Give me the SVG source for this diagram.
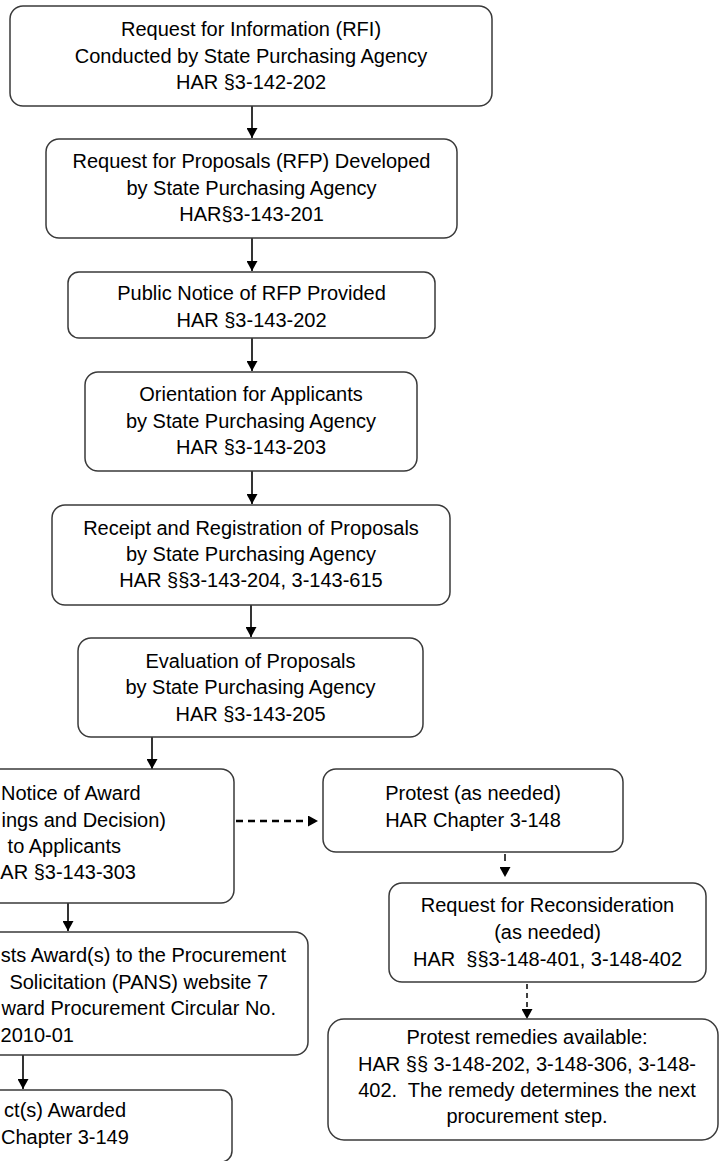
<svg xmlns="http://www.w3.org/2000/svg" width="719" height="1161" viewBox="0 0 719 1161">
<style>
.box{fill:#fff;stroke:#3a3a3a;stroke-width:1.5}
.t{font-family:"Liberation Sans",Arial,sans-serif;font-size:20px;fill:#000;text-anchor:middle;white-space:pre}
.e{text-anchor:end}
.s{text-anchor:start}
.c{stroke:#000;stroke-width:1.6;fill:none}
.d{stroke:#000;fill:none}
</style>
<defs>
<marker id="ah" viewBox="0 0 10 10" refX="10" refY="5" markerWidth="10" markerHeight="11" markerUnits="userSpaceOnUse" orient="auto" preserveAspectRatio="none">
<path d="M0,0 L10,5 L0,10 z" fill="#000"/>
</marker>
</defs>
<rect x="0" y="0" width="719" height="1161" fill="#fff"/>
<g id="connectors">
<line class="c" x1="252" y1="106" x2="252" y2="138" marker-end="url(#ah)"/>
<line class="c" x1="252" y1="238" x2="252" y2="271" marker-end="url(#ah)"/>
<line class="c" x1="252" y1="338" x2="252" y2="371" marker-end="url(#ah)"/>
<line class="c" x1="252" y1="471" x2="252" y2="504" marker-end="url(#ah)"/>
<line class="c" x1="251" y1="605" x2="251" y2="637" marker-end="url(#ah)"/>
<line class="c" x1="152" y1="737" x2="152" y2="769" marker-end="url(#ah)"/>
<line class="c" x1="68" y1="903" x2="68" y2="931" marker-end="url(#ah)"/>
<line class="c" x1="23" y1="1055" x2="23" y2="1089" marker-end="url(#ah)"/>
<line class="d" x1="236" y1="821" x2="318" y2="821" stroke-width="2.5" stroke-dasharray="7 5" marker-end="url(#ah)"/>
<line class="d" x1="505" y1="854" x2="505" y2="877" stroke-width="1.5" stroke-dasharray="7 6" marker-end="url(#ah)"/>
<line class="d" x1="527" y1="984" x2="527" y2="1019" stroke-width="1.5" stroke-dasharray="5 4" marker-end="url(#ah)"/>
</g>
<g id="n1">
<rect class="box" x="10" y="6" width="482" height="100" rx="13"/>
<text class="t" x="251" y="36">Request for Information (RFI)</text>
<text class="t" x="251" y="62.5">Conducted by State Purchasing Agency</text>
<text class="t" x="251" y="89">HAR §3-142-202</text>
</g>
<g id="n2">
<rect class="box" x="46" y="139" width="411" height="99" rx="13"/>
<text class="t" x="251.5" y="168">Request for Proposals (RFP) Developed</text>
<text class="t" x="251.5" y="195">by State Purchasing Agency</text>
<text class="t" x="251.5" y="221">HAR§3-143-201</text>
</g>
<g id="n3">
<rect class="box" x="68" y="272" width="367" height="66" rx="11"/>
<text class="t" x="251.5" y="300">Public Notice of RFP Provided</text>
<text class="t" x="251.5" y="327">HAR §3-143-202</text>
</g>
<g id="n4">
<rect class="box" x="85" y="372" width="332" height="99" rx="13"/>
<text class="t" x="251" y="401">Orientation for Applicants</text>
<text class="t" x="251" y="428">by State Purchasing Agency</text>
<text class="t" x="251" y="454">HAR §3-143-203</text>
</g>
<g id="n5">
<rect class="box" x="52" y="505" width="398" height="100" rx="13"/>
<text class="t" x="251" y="535">Receipt and Registration of Proposals</text>
<text class="t" x="251" y="561">by State Purchasing Agency</text>
<text class="t" x="251" y="587">HAR §§3-143-204, 3-143-615</text>
</g>
<g id="n6">
<rect class="box" x="78" y="638" width="345" height="99" rx="13"/>
<text class="t" x="250.5" y="668">Evaluation of Proposals</text>
<text class="t" x="250.5" y="694">by State Purchasing Agency</text>
<text class="t" x="250.5" y="721">HAR §3-143-205</text>
</g>
<g id="n7">
<rect class="box" x="-120" y="769" width="354" height="134" rx="13"/>
<text class="t s" x="1" y="800">Notice of Award</text>
<text class="t e" x="166" y="827">ings and Decision)</text>
<text class="t e" x="121" y="853">to Applicants</text>
<text class="t e" x="136" y="879">AR §3-143-303</text>
</g>
<g id="n8">
<rect class="box" x="323" y="769" width="300" height="83" rx="13"/>
<text class="t" x="473" y="800">Protest (as needed)</text>
<text class="t" x="473" y="827">HAR Chapter 3-148</text>
</g>
<g id="n9">
<rect class="box" x="389" y="883" width="317" height="99" rx="13"/>
<text class="t" x="547.5" y="912">Request for Reconsideration</text>
<text class="t" x="547.5" y="939">(as needed)</text>
<text class="t" x="547.5" y="966" xml:space="preserve">HAR  §§3-148-401, 3-148-402</text>
</g>
<g id="n10">
<rect class="box" x="328" y="1019" width="390" height="121" rx="16"/>
<text class="t" x="527" y="1044">Protest remedies available:</text>
<text class="t" x="527" y="1071">HAR §§ 3-148-202, 3-148-306, 3-148-</text>
<text class="t" x="527" y="1097" xml:space="preserve">402.  The remedy determines the next</text>
<text class="t" x="527" y="1123">procurement step.</text>
</g>
<g id="n11">
<rect class="box" x="-60" y="932" width="368" height="123" rx="13"/>
<text class="t e" x="286" y="962">sts Award(s) to the Procurement</text>
<text class="t e" x="268" y="989">Solicitation (PANS) website 7</text>
<text class="t e" x="276" y="1015">ward Procurement Circular No.</text>
<text class="t e" x="74" y="1042">2010-01</text>
</g>
<g id="n12">
<rect class="box" x="-60" y="1090" width="292" height="72" rx="11"/>
<text class="t e" x="126" y="1117">ct(s) Awarded</text>
<text class="t s" x="1" y="1144">Chapter 3-149</text>
</g>
</svg>
